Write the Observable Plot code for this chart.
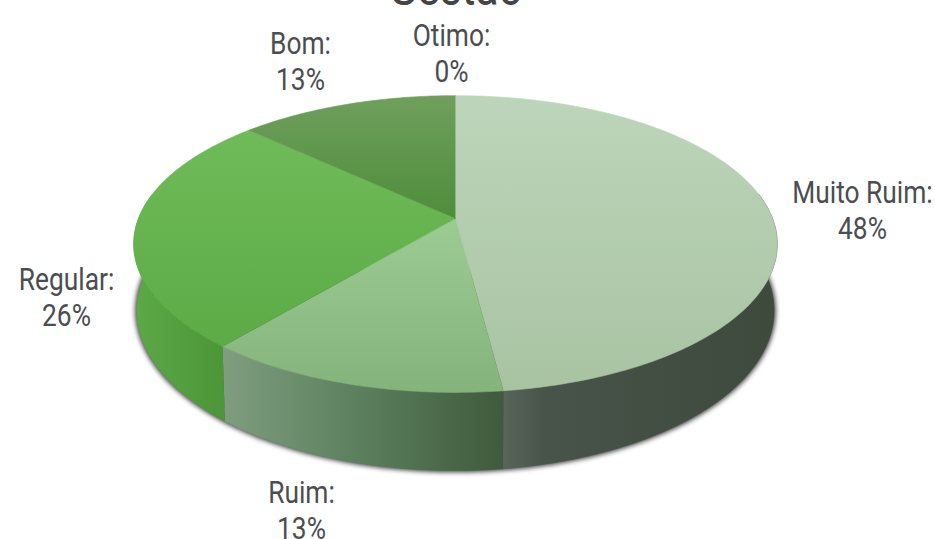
<!DOCTYPE html>
<html><head><meta charset="utf-8">
<script src="https://cdn.jsdelivr.net/npm/d3@7"></script>
<script src="https://cdn.jsdelivr.net/npm/@observablehq/plot@0.6"></script>
<style>html,body{margin:0;padding:0;background:#fff}</style>
</head><body><div id="chart"></div>
<script>
const title = "Gestão";
const categories = ["Muito Ruim", "Ruim", "Regular", "Bom", "Otimo"];
const shares = [48, 13, 26, 13, 0];

// layout of the tilted disc (perspective projection of a circle)
const cx = 455, cy = 218, W = 317, H = 144, K = 0.172;
const depth = 64.7, shrink = 0.99, narrow = 0.85;
const labelAt = {
  "Muito Ruim": [862, 209], "Ruim": [301, 509], "Regular": [66, 296],
  "Bom": [300, 60], "Otimo": [451, 52]
};

const rad = d => d * Math.PI / 180;
function proj(deg, low = false) {
  const X = Math.sin(rad(deg)), Y = Math.cos(rad(deg)), w = 1 + K * Y;
  return low
    ? {x: cx + shrink * W * X / w, y: cy - H * Y / w + depth / w}
    : {x: cx + W * X / w, y: cy - H * Y / w};
}
function arc(a, b, low = false) {
  const n = Math.max(2, Math.ceil(Math.abs(b - a))), out = [];
  for (let i = 0; i <= n; i++) out.push(proj(a + (b - a) * i / n, low));
  return out;
}
const total = d3.sum(shares);
let acc = 0;
const slices = categories.map((name, i) => {
  const a0 = acc / total * 360; acc += shares[i];
  return {name, a0, a1: acc / total * 360, share: shares[i]};
});

const defs = () => d3.create("svg:defs").html(`
  <linearGradient id="top0" x1="0" y1="0" x2="0" y2="1"><stop offset="0" stop-color="#bdd5ba"/><stop offset="1" stop-color="#a8c3a2"/></linearGradient>
  <linearGradient id="top1" x1="0" y1="0" x2="0" y2="1"><stop offset="0" stop-color="#9ccb94"/><stop offset="1" stop-color="#84b37c"/></linearGradient>
  <linearGradient id="top2" x1="0" y1="0" x2="0" y2="1"><stop offset="0" stop-color="#6fbb59"/><stop offset="1" stop-color="#5cab47"/></linearGradient>
  <linearGradient id="top3" x1="0" y1="0" x2="0" y2="1"><stop offset="0" stop-color="#6f9f5c"/><stop offset="1" stop-color="#4f8d3b"/></linearGradient>
  <linearGradient id="rim0"><stop offset="0" stop-color="#59645a"/><stop offset="0.15" stop-color="#48534a"/><stop offset="1" stop-color="#3e4a3c"/></linearGradient>
  <linearGradient id="rim1"><stop offset="0" stop-color="#7f9e80"/><stop offset="0.45" stop-color="#5e825f"/><stop offset="1" stop-color="#3f5a3c"/></linearGradient>
  <linearGradient id="rim2"><stop offset="0" stop-color="#5ca947"/><stop offset="1" stop-color="#4c9538"/></linearGradient>
`).node();

const faces = slices.filter(s => s.share > 0).map((s, i) => ({
  i, pts: [{x: cx, y: cy}, ...arc(s.a0, s.a1)]
}));
const rims = slices.filter(s => s.share > 0).map((s, i) => {
  const a = Math.max(s.a0, 80), b = Math.min(s.a1, 280);
  return a < b ? {i, pts: [...arc(a, b), ...arc(b, a, true)]} : null;
}).filter(Boolean);
const shadowPts = arc(85, 275, true);
const labels = slices.map(s => ({
  x: labelAt[s.name][0], y: labelAt[s.name][1], text: `${s.name}:\n${s.share}%`
}));

const plot = Plot.plot({
  width: 935, height: 539,
  margin: 0,
  x: {domain: [0, 935], range: [0, 935], axis: null},
  y: {domain: [0, 539], range: [0, 539], axis: null},
  style: {background: "#fff", fontFamily: "Roboto"},
  marks: [
    defs,
    Plot.line(shadowPts, {x: "x", y: "y", fill: "#333", stroke: "#333", strokeWidth: 3, imageFilter: "blur(2.5px)"}),
    ...rims.map(r => Plot.line(r.pts, {x: "x", y: "y", fill: `url(#rim${r.i})`, stroke: `url(#rim${r.i})`, strokeWidth: 0.6})),
    ...faces.map(f => Plot.line(f.pts, {x: "x", y: "y", fill: `url(#top${f.i})`, stroke: `url(#top${f.i})`, strokeWidth: 0.6})),
    Plot.text(labels, {x: "x", y: "y", text: "text", fontSize: 31, lineHeight: 1.15, fill: "#4b4d50"}),
    Plot.text([title], {x: () => cx, y: () => 4, text: d => d, fontSize: 50, lineAnchor: "bottom", fill: "#444"})
  ]
});
// the reference's lettering is a condensed cut: narrow the Roboto glyphs horizontally
d3.select(plot).selectAll("text").each(function () {
  const t = this.getAttribute("transform") || "";
  this.setAttribute("transform", `${t} scale(${narrow},1)`);
});
document.getElementById("chart").append(plot);
</script></body></html>
